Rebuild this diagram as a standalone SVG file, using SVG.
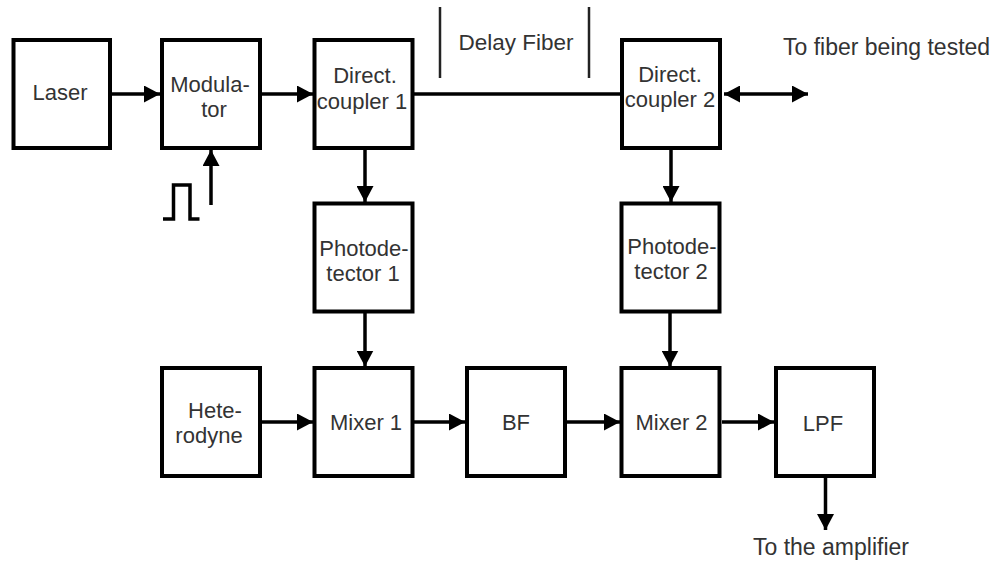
<svg xmlns="http://www.w3.org/2000/svg" width="993" height="562" viewBox="0 0 993 562">
<style>
.box{fill:#fff;stroke:#000;stroke-width:4}
.t{font-family:"Liberation Sans",Arial,sans-serif;font-size:22px;fill:#333;text-anchor:middle}
.ts{font-family:"Liberation Sans",Arial,sans-serif;font-size:23px;fill:#333}
.c{fill:none;stroke:#000;stroke-width:3.5}
.thin{fill:none;stroke:#222;stroke-width:2.5}
</style>
<defs>
<marker id="ah" markerWidth="16" markerHeight="17" refX="16" refY="8.5" orient="auto-start-reverse" markerUnits="userSpaceOnUse">
<path d="M0,0 L16,8.5 L0,17 z" fill="#000"/>
</marker>
</defs>
<rect width="993" height="562" fill="#fff"/>
<g id="connectors">
<line class="c" x1="111" y1="94" x2="160" y2="94" marker-end="url(#ah)"/>
<line class="c" x1="261" y1="94" x2="313" y2="94" marker-end="url(#ah)"/>
<line class="c" x1="211" y1="205" x2="211" y2="150" marker-end="url(#ah)"/>
<polyline class="c" points="163,219 173.5,219 173.5,185 190,185 190,219 199.5,219"/>
<line class="c" x1="414" y1="94" x2="620" y2="94"/>
<line class="c" x1="724" y1="94" x2="808" y2="94" marker-start="url(#ah)" marker-end="url(#ah)"/>
<line class="thin" x1="440" y1="7" x2="440" y2="78"/>
<line class="thin" x1="589" y1="7" x2="589" y2="78"/>
<line class="c" x1="365" y1="150" x2="365" y2="202" marker-end="url(#ah)"/>
<line class="c" x1="671" y1="150" x2="671" y2="202" marker-end="url(#ah)"/>
<line class="c" x1="365" y1="313" x2="365" y2="366.5" marker-end="url(#ah)"/>
<line class="c" x1="670" y1="313" x2="670" y2="366.5" marker-end="url(#ah)"/>
<line class="c" x1="262" y1="422" x2="313" y2="422" marker-end="url(#ah)"/>
<line class="c" x1="414" y1="422" x2="465" y2="422" marker-end="url(#ah)"/>
<line class="c" x1="567" y1="422" x2="620" y2="422" marker-end="url(#ah)"/>
<line class="c" x1="722" y1="422" x2="774" y2="422" marker-end="url(#ah)"/>
<line class="c" x1="825.5" y1="477" x2="825.5" y2="530" marker-end="url(#ah)"/>
</g>
<g id="delay-fiber-label"><text class="t" x="516" y="50" style="font-size:22.5px">Delay Fiber</text></g>
<g id="fiber-label"><text class="ts" x="783" y="55">To fiber being tested</text></g>
<g id="amp-label"><text class="ts" x="753" y="555">To the amplifier</text></g>
<g id="laser">
<rect class="box" x="13.5" y="40" width="96.5" height="108"/>
<text class="t" x="60" y="100">Laser</text>
</g>
<g id="modulator">
<rect class="box" x="162" y="40" width="98" height="108"/>
<text class="t" x="210" y="92">Modula-</text>
<text class="t" x="214" y="117">tor</text>
</g>
<g id="coupler1">
<rect class="box" x="314.5" y="40" width="98" height="108"/>
<text class="t" x="365" y="83">Direct.</text>
<text class="t" x="362" y="109">coupler 1</text>
</g>
<g id="coupler2">
<rect class="box" x="622" y="40" width="98" height="108"/>
<text class="t" x="670" y="82">Direct.</text>
<text class="t" x="670" y="107">coupler 2</text>
</g>
<g id="photodetector1">
<rect class="box" x="314.5" y="203.5" width="98" height="108"/>
<text class="t" x="364" y="256">Photode-</text>
<text class="t" x="363" y="281">tector 1</text>
</g>
<g id="photodetector2">
<rect class="box" x="621.5" y="203.5" width="98" height="108"/>
<text class="t" x="672" y="254">Photode-</text>
<text class="t" x="671" y="279">tector 2</text>
</g>
<g id="heterodyne">
<rect class="box" x="162" y="368" width="98" height="108"/>
<text class="t" x="215" y="418">Hete-</text>
<text class="t" x="209" y="443">rodyne</text>
</g>
<g id="mixer1">
<rect class="box" x="314.5" y="368" width="98" height="108"/>
<text class="t" x="366" y="430">Mixer 1</text>
</g>
<g id="bf">
<rect class="box" x="467" y="368" width="98" height="108"/>
<text class="t" x="516" y="430">BF</text>
</g>
<g id="mixer2">
<rect class="box" x="621.5" y="368" width="98" height="108"/>
<text class="t" x="671.5" y="430">Mixer 2</text>
</g>
<g id="lpf">
<rect class="box" x="776" y="368" width="98" height="108"/>
<text class="t" x="823" y="431">LPF</text>
</g>
</svg>
